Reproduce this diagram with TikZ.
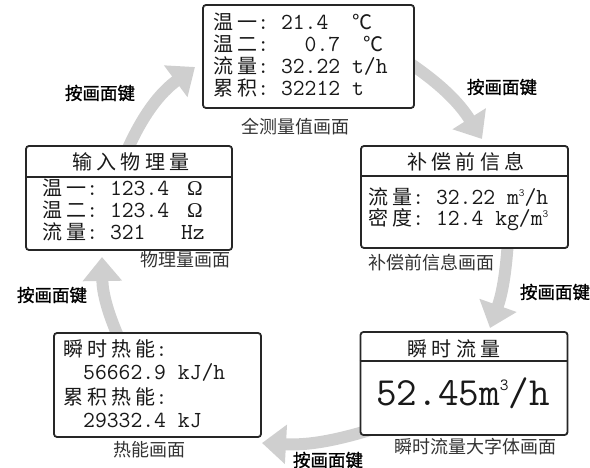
\documentclass[tikz,border=0pt]{standalone}
\usepackage{fontspec}
\usepackage{tikz}
\usetikzlibrary{arrows.meta,positioning}
\newfontfamily\scrzh{Noto Sans CJK SC}[Scale=0.87,LetterSpace=20.7]
\newfontfamily\capzh{Noto Sans CJK SC}
\newfontfamily\keyzh{Noto Sans CJK SC}[FakeBold=1.2]
\newfontfamily\ohmfont{Liberation Serif}
\newcommand{\cubed}{\raisebox{8pt}{\fontsize{11}{11}\selectfont 3}}
\newcommand{\bigcubed}{\raisebox{14pt}{\fontsize{17}{17}\selectfont 3}}
\newcommand{\ohm}{\hspace{6pt}{\ohmfont\fontsize{21}{21}\selectfont Ω}}

\begin{document}
\begin{tikzpicture}[x=1pt,y=-1pt,
    screen/.style={draw=black!85, line width=1.8pt, rounded corners=3pt, fill=white, inner sep=0pt},
    divline/.style={draw=black!85, line width=1.4pt},
    rowtext/.style={anchor=base west, inner sep=0pt, font=\ttfamily\fontsize{23}{23}\selectfont, text=black!90},
    titletext/.style={anchor=base, inner sep=0pt, font=\ttfamily\fontsize{23}{23}\selectfont\scrzh, text=black!90},
    caption/.style={inner sep=0pt, font=\capzh\fontsize{18}{18}\selectfont, text=black!80},
    keylabel/.style={inner sep=0pt, font=\keyzh\fontsize{17.5}{18}\selectfont},
    pagearrow/.style={draw=black!19, line width=12pt, -{Triangle[length=24pt,width=38pt]}}]
    \useasboundingbox (0,0) rectangle (590,468);

    % Arrow ends
    \coordinate (a1s) at (405,60);  \coordinate (a1e) at (482,139);
    \coordinate (a2s) at (508,240); \coordinate (a2e) at (490,328);
    \coordinate (a3s) at (370,430); \coordinate (a3e) at (262,443);
    \coordinate (a4s) at (122,345); \coordinate (a4e) at (102,257);
    \coordinate (a5s) at (125,155); \coordinate (a5e) at (195,67);

    % Arrows
    \draw [pagearrow] (a1s) to[bend left=12] (a1e);
    \draw [pagearrow] (a2s) to[bend left=8] (a2e);
    \draw [pagearrow] (a3s) to[bend left=10] (a3e);
    \draw [pagearrow] (a4s) to[bend left=12] (a4e);
    \draw [pagearrow] (a5s) to[bend left=15] (a5e);

    % Arrow labels
    \node [keylabel] (k1) at (502,87) {按画面键};
    \node [keylabel] (k2) at (555,292) {按画面键};
    \node [keylabel] (k3) at (328,460) {按画面键};
    \node [keylabel] (k4) at (52,295) {按画面键};
    \node [keylabel] (k5) at (100,93) {按画面键};

    % Screens
    \node [screen, minimum width=211pt, minimum height=103pt] (allscr) at (308.5,56.5) {};
    \node [screen, minimum width=206pt, minimum height=104pt] (physscr) at (129,198) {};
    \node [screen, minimum width=207pt, minimum height=102pt] (precscr) at (464.5,197) {};
    \node [screen, minimum width=207pt, minimum height=104pt] (heatscr) at (157.5,385) {};
    \node [screen, minimum width=207pt, minimum height=103pt] (flowscr) at (464,383.5) {};

    % Header lines
    \draw [divline] (physscr.west |- 0,177) -- (physscr.east |- 0,177);
    \draw [divline] (precscr.west |- 0,176) -- (precscr.east |- 0,176);
    \draw [divline] (flowscr.west |- 0,361) -- (flowscr.east |- 0,361);

    % All values screen
    \node [rowtext] (all1) at (213,30) {{\scrzh 温一}:~21.4~~{\scrzh ℃}};
    \node [rowtext] (all2) at (213,52) {{\scrzh 温二}:~~~0.7~~{\scrzh ℃}};
    \node [rowtext] (all3) at (213,74) {{\scrzh 流量}:~32.22~t/h};
    \node [rowtext] (all4) at (213,96) {{\scrzh 累积}:~32212~t};
    \node [caption] (allcap) at (295,127) {全测量值画面};

    % Physical values screen
    \node [titletext] (phystitle) at (131,170) {输入物理量};
    \node [rowtext] (phys1) at (42,196) {{\scrzh 温一}:~123.4~\ohm};
    \node [rowtext] (phys2) at (42,218) {{\scrzh 温二}:~123.4~\ohm};
    \node [rowtext] (phys3) at (42,240) {{\scrzh 流量}:~321~~~Hz};
    \node [caption] (physcap) at (185,260) {物理量画面};

    % Before compensation screen
    \node [titletext] (prectitle) at (466,170) {补偿前信息};
    \node [rowtext] (prec1) at (368,205) {{\scrzh 流量}:~32.22~m\cubed/h};
    \node [rowtext] (prec2) at (368,226) {{\scrzh 密度}:~12.4~kg/m\cubed};
    \node [caption, anchor=west] (preccap) at (368,263) {补偿前信息画面};

    % Heat screen
    \node [rowtext] (heat1) at (63,356) {{\scrzh 瞬时热能}:};
    \node [rowtext] (heat2) at (83,380) {56662.9~kJ/h};
    \node [rowtext] (heat3) at (63,404) {{\scrzh 累积热能}:};
    \node [rowtext] (heat4) at (83,428) {29332.4~kJ};
    \node [caption] (heatcap) at (149,450) {热能画面};

    % Big flow screen
    \node [titletext] (flowtitle) at (454,356) {瞬时流量};
    \node [rowtext, anchor=base, font=\ttfamily\fontsize{40}{40}\selectfont] (flowbig) at (463,405) {52.45m\bigcubed/h};
    \node [caption] (flowcap) at (475,447) {瞬时流量大字体画面};

\end{tikzpicture}
\end{document}
